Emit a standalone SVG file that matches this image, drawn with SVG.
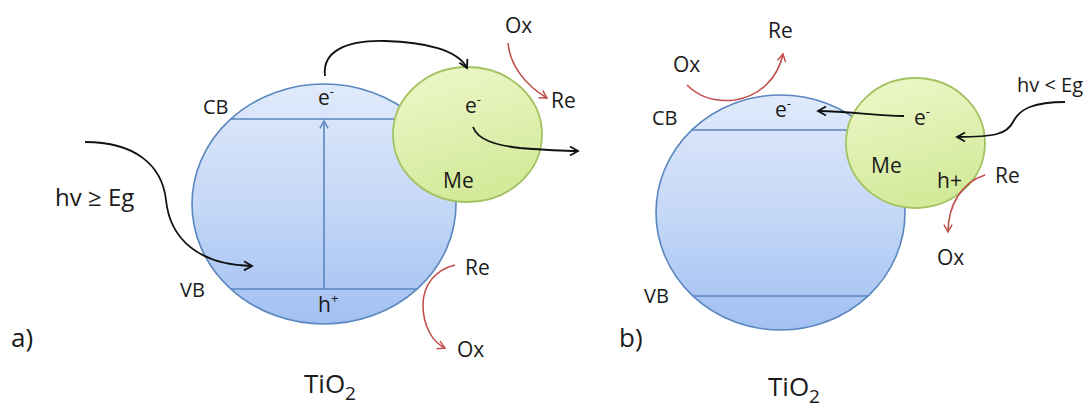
<svg xmlns="http://www.w3.org/2000/svg" width="1083" height="408" viewBox="0 0 1083 408">
  <defs>
    <style>
      text { font-family: "Open Sans", "Liberation Sans", sans-serif; fill: #1a1a1a; }
      .t21 { font-size: 21px; }
      .t20 { font-size: 20px; }
      .big { font-size: 26px; }
      .blue { fill: url(#gBlue); stroke: #5A86BF; stroke-width: 1.6; }
      .green { fill: url(#gGreen); stroke: #A3C262; stroke-width: 1.8; }
      .band { stroke: #5A86BF; stroke-width: 1.6; fill: none; }
      .blk { stroke: #111; stroke-width: 1.8; fill: none; marker-end: url(#ahK); }
      .red { stroke: #C0504D; stroke-width: 1.6; fill: none; marker-end: url(#ahR); }
      .vup { stroke: #5A86BF; stroke-width: 1.6; fill: none; marker-end: url(#ahU); }
    </style>
    <linearGradient id="gBlue" x1="0" y1="0" x2="0" y2="1">
      <stop offset="0" stop-color="#E0EAFB"/>
      <stop offset="0.5" stop-color="#C5D8F7"/>
      <stop offset="1" stop-color="#A2C0F2"/>
    </linearGradient>
    <linearGradient id="gGreen" x1="0" y1="0" x2="0.3" y2="1">
      <stop offset="0" stop-color="#EFF8CC"/>
      <stop offset="1" stop-color="#D3EA9A"/>
    </linearGradient>
    <marker id="ahK" viewBox="0 0 12 12" refX="10" refY="6" markerWidth="12" markerHeight="12" markerUnits="userSpaceOnUse" orient="auto">
      <path d="M2,1.5 L10,6 L2,10.5" fill="none" stroke="#111" stroke-width="1.8"/>
    </marker>
    <marker id="ahR" viewBox="0 0 12 12" refX="10" refY="6" markerWidth="11" markerHeight="11" markerUnits="userSpaceOnUse" orient="auto">
      <path d="M2,1.5 L10,6 L2,10.5" fill="none" stroke="#C0504D" stroke-width="1.6"/>
    </marker>
    <marker id="ahU" viewBox="0 0 12 12" refX="10" refY="6" markerWidth="11" markerHeight="11" markerUnits="userSpaceOnUse" orient="auto">
      <path d="M2,1.5 L10,6 L2,10.5" fill="none" stroke="#5A86BF" stroke-width="1.6"/>
    </marker>
  </defs>
  <rect x="0" y="0" width="1083" height="408" fill="#ffffff"/>

  <!-- Panel a -->
  <g id="tio2-a">
    <ellipse class="blue" cx="324" cy="204" rx="132" ry="120"/>
    <line class="band" x1="231" y1="119" x2="417" y2="119"/>
    <line class="band" x1="231" y1="289" x2="417" y2="289"/>
    <text class="t20" x="203" y="114">CB</text>
    <text class="t20" x="180" y="297">VB</text>
    <text class="t21" x="318" y="105">e<tspan dy="-9" font-size="13">-</tspan></text>
    <text class="t21" x="318" y="312">h<tspan dy="-9" font-size="13">+</tspan></text>
    <text class="big" x="304" y="393">TiO<tspan dy="7" font-size="19">2</tspan></text>
  </g>
  <g id="me-a">
    <ellipse class="green" cx="467.5" cy="134.5" rx="74.5" ry="67.5"/>
    <text class="t21" x="465" y="113">e<tspan dy="-9" font-size="13">-</tspan></text>
    <text class="t21" x="443" y="188">Me</text>
  </g>
  <g id="labels-a">
    <text class="big" x="11" y="347">a)</text>
    <text x="55" y="206" font-size="24">hv ≥ Eg</text>
    <text class="t21" x="505" y="33">Ox</text>
    <text class="t21" x="551" y="108">Re</text>
    <text class="t21" x="465" y="275">Re</text>
    <text class="t21" x="457" y="357">Ox</text>
  </g>

  <!-- Panel b -->
  <g id="tio2-b">
    <ellipse class="blue" cx="780.5" cy="212.5" rx="124.5" ry="117.5"/>
    <line class="band" x1="692" y1="130" x2="869" y2="130"/>
    <line class="band" x1="693" y1="296" x2="868" y2="296"/>
    <text class="t20" x="652" y="125">CB</text>
    <text class="t20" x="644" y="303">VB</text>
    <text class="t21" x="775" y="117">e<tspan dy="-9" font-size="13">-</tspan></text>
    <text class="big" x="768" y="396">TiO<tspan dy="7" font-size="19">2</tspan></text>
  </g>
  <g id="me-b">
    <ellipse class="green" cx="915.5" cy="143" rx="69.5" ry="65"/>
    <text class="t21" x="914" y="125">e<tspan dy="-9" font-size="13">-</tspan></text>
    <text class="t21" x="871" y="173">Me</text>
    <text class="t21" x="937" y="188">h+</text>
  </g>
  <g id="labels-b">
    <text class="big" x="619" y="347">b)</text>
    <text class="t20" x="1017" y="92">hv &lt; Eg</text>
    <text class="t21" x="768" y="38">Re</text>
    <text class="t21" x="673" y="72">Ox</text>
    <text class="t21" x="995" y="183">Re</text>
    <text class="t21" x="937" y="265">Ox</text>
  </g>

  <!-- Connectors -->
  <g id="connectors">
    <path class="blk" d="M85,142 C135,142 162,165 166,200 C170,240 200,265 252,266"/>
    <path class="vup" d="M324,289 L324,121"/>
    <path class="blk" d="M325,76 C322,52 345,40 385,41 C425,42 458,50 467,68"/>
    <path class="blk" d="M473,127 C478,140 495,145 520,148 C545,150 560,151 578,151"/>
    <path class="red" d="M508,43 C510,65 525,85 547,98"/>
    <path class="red" d="M455,265 C435,270 423,285 423,305 C423,325 432,342 445,348"/>
    <path class="blk" d="M904,116 C875,116 850,111 818,111"/>
    <path class="blk" d="M1065,102 C1035,102 1020,108 1013,122 C1007,134 995,137 957,137"/>
    <path class="red" d="M985,175 C962,182 948,205 948,232"/>
    <path class="red" d="M687,85 C700,98 718,102 735,100 C760,96 778,78 783,54"/>
  </g>
</svg>
